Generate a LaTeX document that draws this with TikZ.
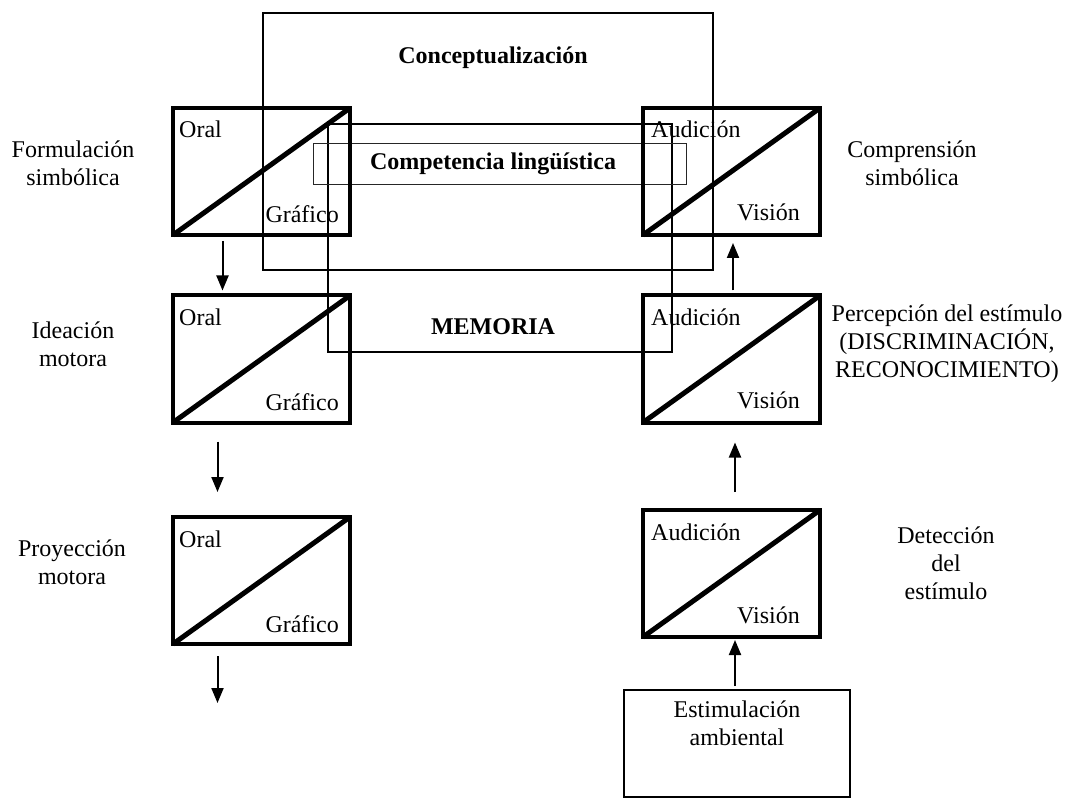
\documentclass[tikz,border=0pt]{standalone}
\usepackage{fontspec}
\setmainfont{Liberation Serif}
\usetikzlibrary{arrows.meta}
\tikzset{
  caja/.style={draw, line width=4pt, minimum width=177pt, minimum height=127pt, inner sep=0pt, outer sep=0pt},
  diag/.style={line width=5pt},
  marco/.style={draw, line width=2pt, inner sep=0pt, outer sep=0pt},
  fino/.style={draw=black!85, line width=1pt, inner sep=0pt, outer sep=0pt},
  etiq/.style={align=center, inner sep=0pt},
  dentro/.style={inner sep=0pt},
  flecha/.style={-{Triangle[length=15pt,width=12pt]}, line width=2pt}
}
\begin{document}
\begin{tikzpicture}[x=1pt, y=-1pt, font=\fontsize{24}{28}\selectfont]
  \useasboundingbox (0,0) rectangle (1067,799);
  % marcos centrales
  \node[marco, minimum width=450pt, minimum height=257pt] (concep) at (488,141.5) {};
  \node[marco, minimum width=344pt, minimum height=228pt] (memo) at (500,238) {};
  \node[fino, minimum width=373pt, minimum height=41pt] (compet) at (499.5,164.5) {};
  \node[etiq] (concep-t) at (493,58) {\textbf{Conceptualización}};
  \node[etiq] (compet-t) at (493,164) {\textbf{Competencia lingüística}};
  \node[etiq] (memo-t) at (493,327) {\textbf{MEMORIA}};
  % columna izquierda
  \node[caja] (fs) at (261.5,171.5) {};
  \node[caja] (im) at (261.5,359) {};
  \node[caja] (pm) at (261.5,580.5) {};
  \draw[diag] (fs.south west) -- (fs.north east);
  \draw[diag] (im.south west) -- (im.north east);
  \draw[diag] (pm.south west) -- (pm.north east);
  \node[dentro, anchor=base west] (fs-o) at ([xshift=6pt,yshift=-30pt]fs.north west) {Oral};
  \node[dentro, anchor=base east] (fs-g) at ([xshift=-11pt,yshift=12pt]fs.south east) {Gráfico};
  \node[dentro, anchor=base west] (im-o) at ([xshift=6pt,yshift=-30pt]im.north west) {Oral};
  \node[dentro, anchor=base east] (im-g) at ([xshift=-11pt,yshift=12pt]im.south east) {Gráfico};
  \node[dentro, anchor=base west] (pm-o) at ([xshift=6pt,yshift=-30pt]pm.north west) {Oral};
  \node[dentro, anchor=base east] (pm-g) at ([xshift=-11pt,yshift=12pt]pm.south east) {Gráfico};
  \node[etiq] (fs-t) at (73,163) {Formulación\\simbólica};
  \node[etiq] (im-t) at (73,344) {Ideación\\motora};
  \node[etiq] (pm-t) at (72,562) {Proyección\\motora};
  % columna derecha
  \node[caja] (cs) at (731.5,171.5) {};
  \node[caja] (pe) at (731.5,359) {};
  \node[caja] (de) at (731.5,573.5) {};
  \node[marco, minimum width=226pt, minimum height=107pt] (ea) at (737,743.5) {};
  \draw[diag] (cs.south west) -- (cs.north east);
  \draw[diag] (pe.south west) -- (pe.north east);
  \draw[diag] (de.south west) -- (de.north east);
  \node[dentro, anchor=base west] (cs-a) at ([xshift=8pt,yshift=-30pt]cs.north west) {Audición};
  \node[dentro, anchor=base east] (cs-v) at ([xshift=-20pt,yshift=14pt]cs.south east) {Visión};
  \node[dentro, anchor=base west] (pe-a) at ([xshift=8pt,yshift=-30pt]pe.north west) {Audición};
  \node[dentro, anchor=base east] (pe-v) at ([xshift=-20pt,yshift=14pt]pe.south east) {Visión};
  \node[dentro, anchor=base west] (de-a) at ([xshift=8pt,yshift=-30pt]de.north west) {Audición};
  \node[dentro, anchor=base east] (de-v) at ([xshift=-20pt,yshift=14pt]de.south east) {Visión};
  \node[etiq] (ea-t) at (737,723.5) {Estimulación\\ambiental};
  \node[etiq] (cs-t) at (912,163) {Comprensión\\simbólica};
  \node[etiq] (pe-t) at (947,344) {Percepción del estímulo\\(DISCRIMINACIÓN,\\RECONOCIMIENTO)};
  \node[etiq] (de-t) at (946,563) {Detección\\del\\estímulo};
  % flechas
  \coordinate (salida) at (217.5,703);
  \draw[flecha, shorten <=6pt, shorten >=5pt] ([xshift=-39pt]fs.south) -- ([xshift=-39pt]im.north);
  \draw[flecha, shorten <=19pt, shorten >=25pt] ([xshift=-44pt]im.south) -- ([xshift=-44pt]pm.north);
  \draw[flecha, shorten <=12pt] ([xshift=-44pt]pm.south) -- (salida);
  \draw[flecha, shorten <=4pt, shorten >=3pt] ([xshift=-2pt]ea.north) -- ([xshift=3.5pt]de.south);
  \draw[flecha, shorten <=18pt, shorten >=20pt] ([xshift=3.5pt]de.north) -- ([xshift=3.5pt]pe.south);
  \draw[flecha, shorten <=5pt, shorten >=8pt] ([xshift=1.5pt]pe.north) -- ([xshift=1.5pt]cs.south);
\end{tikzpicture}
\end{document}
